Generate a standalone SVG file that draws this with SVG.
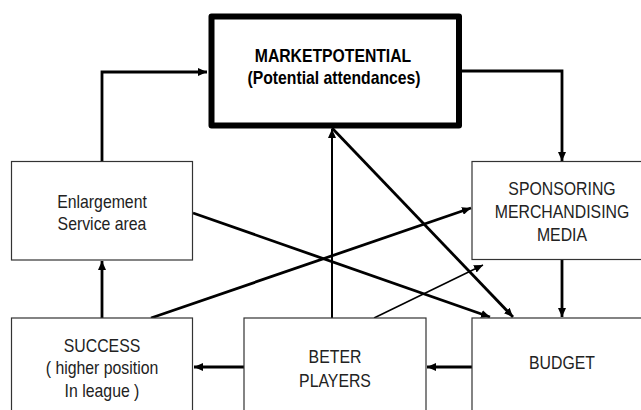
<svg xmlns="http://www.w3.org/2000/svg" width="641" height="410" viewBox="0 0 641 410">
<defs>
<style>
.box{fill:#fff;stroke:#333;stroke-width:1.2}
.main{fill:#fff;stroke:#000;stroke-width:6;stroke-linejoin:round}
.t{font-family:"Liberation Sans",Arial,sans-serif;font-size:18px;fill:#222;text-anchor:middle}
.tb{font-weight:bold;fill:#000;font-size:17.5px}
.c{fill:none;stroke:#000;stroke-width:2.8}
.c2{fill:none;stroke:#000;stroke-width:2}
.c1{fill:none;stroke:#000;stroke-width:1.5}
</style>
<marker id="ah" markerUnits="userSpaceOnUse" markerWidth="10" markerHeight="8" refX="9" refY="4" orient="auto">
<path d="M0,0 L9,4 L0,8 Z" fill="#000"/>
</marker>
</defs>
<g id="connectors">
<path class="c" d="M102,161 V72 H207" marker-end="url(#ah)"/>
<path class="c" d="M462,71 H562 V161" marker-end="url(#ah)"/>
<path class="c" d="M562,260 V317" marker-end="url(#ah)"/>
<path class="c" d="M472,367 H427" marker-end="url(#ah)"/>
<path class="c" d="M244,367 H194" marker-end="url(#ah)"/>
<path class="c" d="M102,318 V261" marker-end="url(#ah)"/>
<path class="c2" d="M332,318 V129" marker-end="url(#ah)"/>
<path class="c" d="M332,128 L513,317" marker-end="url(#ah)"/>
<path class="c" d="M193,213 L490,317" marker-end="url(#ah)"/>
<path class="c" d="M151,318 L471,208" marker-end="url(#ah)"/>
<path class="c1" d="M374,318 L483,265" marker-end="url(#ah)"/>
</g>
<g id="market">
<rect class="main" x="211.5" y="16.5" width="247.5" height="109"/>
<text class="t tb" transform="translate(333,61.5) scale(0.9,1)">MARKETPOTENTIAL</text>
<text class="t tb" transform="translate(334,83.5) scale(0.9,1)">(Potential attendances)</text>
</g>
<g id="enlargement">
<rect class="box" x="11.5" y="161.5" width="181" height="98.5"/>
<text class="t" transform="translate(102,208) scale(0.88,1)">Enlargement</text>
<text class="t" transform="translate(102,230) scale(0.88,1)">Service area</text>
</g>
<g id="sponsoring">
<rect class="box" x="472" y="161.5" width="180" height="98"/>
<text class="t" transform="translate(562,195) scale(0.88,1)">SPONSORING</text>
<text class="t" transform="translate(562,218) scale(0.88,1)">MERCHANDISING</text>
<text class="t" transform="translate(562,241) scale(0.88,1)">MEDIA</text>
</g>
<g id="success">
<rect class="box" x="11.5" y="318" width="181" height="110"/>
<text class="t" transform="translate(102,352) scale(0.88,1)">SUCCESS</text>
<text class="t" transform="translate(102,374) scale(0.88,1)">( higher position</text>
<text class="t" transform="translate(102,397) scale(0.88,1)">In league )</text>
</g>
<g id="players">
<rect class="box" x="244" y="318" width="182" height="110"/>
<text class="t" transform="translate(335,363) scale(0.88,1)">BETER</text>
<text class="t" transform="translate(335,386.5) scale(0.88,1)">PLAYERS</text>
</g>
<g id="budget">
<rect class="box" x="472" y="318" width="180" height="110"/>
<text class="t" transform="translate(562,369) scale(0.88,1)">BUDGET</text>
</g>
</svg>
